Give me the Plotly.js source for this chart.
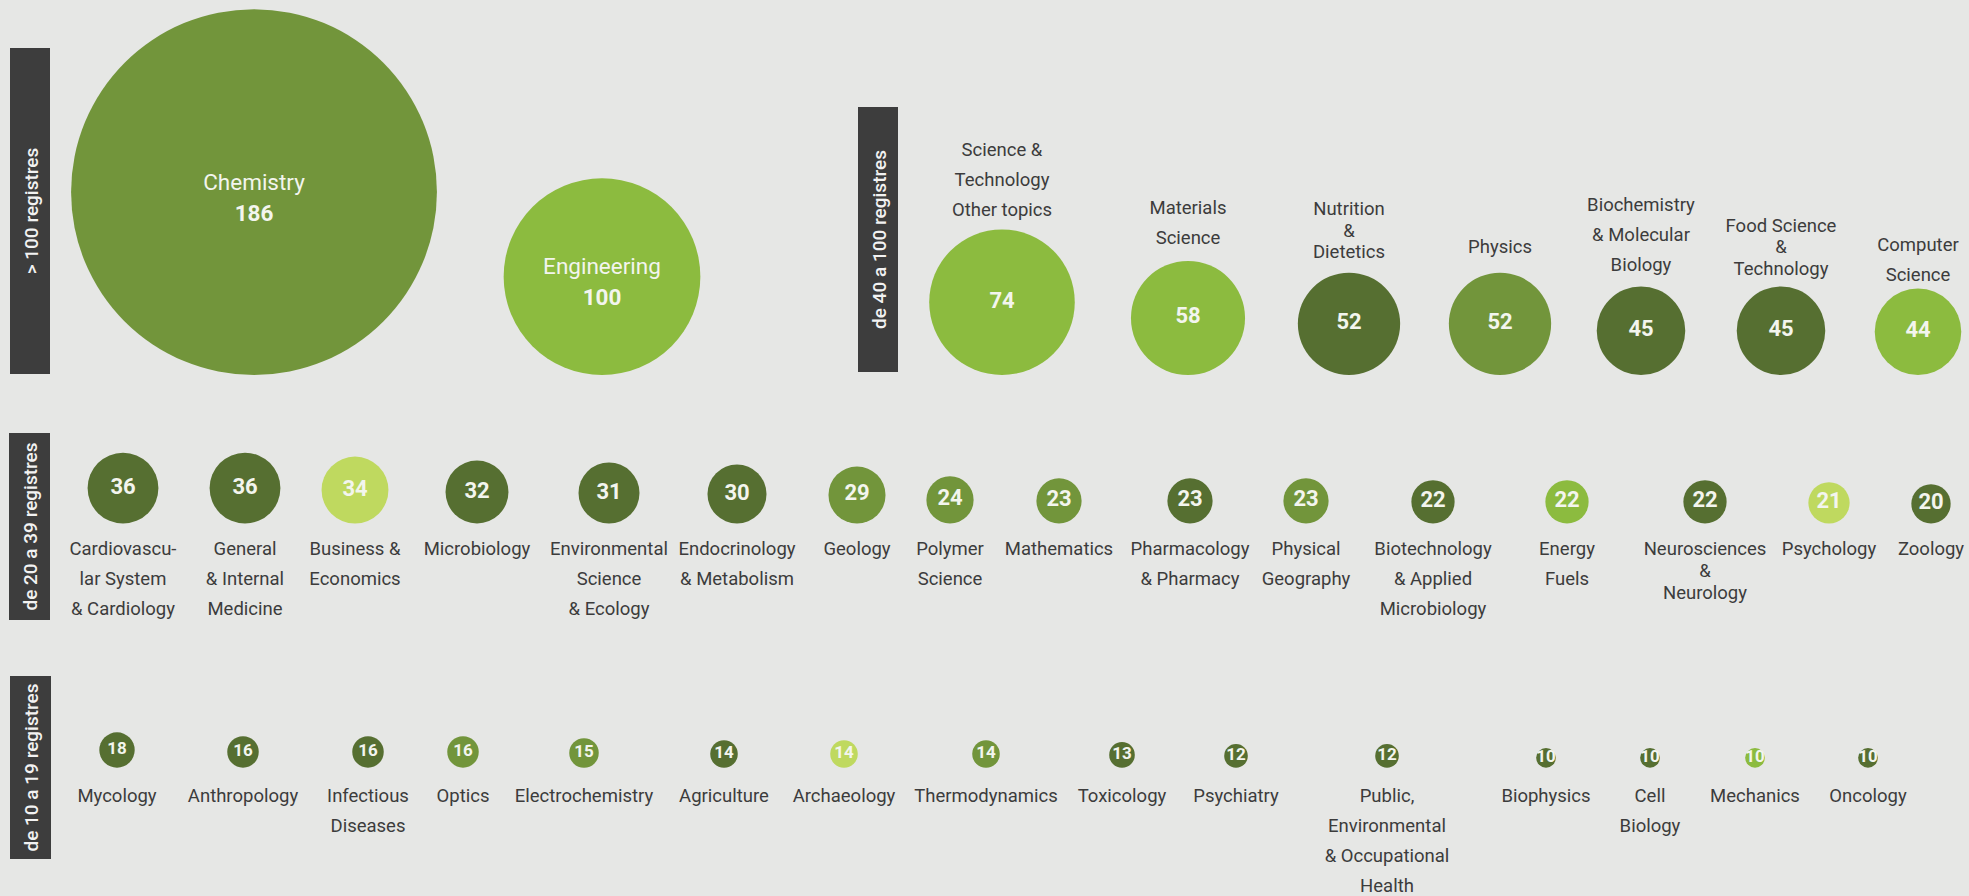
<!DOCTYPE html>
<html>
<head>
<meta charset="utf-8">
<script src="https://cdn.plot.ly/plotly-3.0.1.min.js"></script>
<style>
html,body{margin:0;padding:0;background:#e6e7e5;overflow:hidden}
#chart{width:1969px;height:896px}
</style>
</head>
<body>
<div id="chart"></div>
<script>
// ---------------- DATA ----------------
const tier1Labels = ["Chemistry", "Engineering"];
const tier1Values = [186, 100];

const tier2Labels = ["Science &<br>Technology<br>Other topics", "Materials<br>Science", "Nutrition<br>&<br>Dietetics",
  "Physics", "Biochemistry<br>& Molecular<br>Biology", "Food Science<br>&<br>Technology", "Computer<br>Science"];
const tier2Values = [74, 58, 52, 52, 45, 45, 44];

const tier3Labels = ["Cardiovascu-<br>lar System<br>& Cardiology", "General<br>& Internal<br>Medicine", "Business &<br>Economics",
  "Microbiology", "Environmental<br>Science<br>& Ecology", "Endocrinology<br>& Metabolism", "Geology", "Polymer<br>Science",
  "Mathematics", "Pharmacology<br>& Pharmacy", "Physical<br>Geography", "Biotechnology<br>& Applied<br>Microbiology",
  "Energy<br>Fuels", "Neurosciences<br>&<br>Neurology", "Psychology", "Zoology"];
const tier3Values = [36, 36, 34, 32, 31, 30, 29, 24, 23, 23, 23, 22, 22, 22, 21, 20];

const tier4Labels = ["Mycology", "Anthropology", "Infectious<br>Diseases", "Optics", "Electrochemistry", "Agriculture",
  "Archaeology", "Thermodynamics", "Toxicology", "Psychiatry", "Public,<br>Environmental<br>& Occupational<br>Health",
  "Biophysics", "Cell<br>Biology", "Mechanics", "Oncology"];
const tier4Values = [18, 16, 16, 16, 15, 14, 14, 14, 13, 12, 12, 10, 10, 10, 10];

const tierTitles = ["> 100 registres", "de 40 a 100 registres", "de 20 a 39 registres", "de 10 a 19 registres"];

// ---------------- LAYOUT POSITIONS (pixels) ----------------
const tier1X = [254, 602];
const tier2X = [1002, 1188, 1349, 1500, 1641, 1781, 1918];
const tier3X = [123, 245, 355, 477, 609, 737, 857, 950, 1059, 1190, 1306, 1433, 1567, 1705, 1829, 1931];
const tier4X = [117, 243, 368, 463, 584, 724, 844, 986, 1122, 1236, 1387, 1546, 1650, 1755, 1868];
// gap between the last label line and the top of each tier-2 bubble
const tier2LabelGap = [18, 22, 19, 24, 20, 16, 12];

// ---------------- STYLES ----------------
const PAL = {D: "#566f31", M: "#72953b", B: "#8cbb3f", L: "#bfd95f"};
const tier1Colors = ["M", "B"];
const tier2Colors = ["B", "B", "D", "M", "D", "D", "B"];
const tier3Colors = ["D", "D", "L", "D", "D", "D", "M", "M", "M", "D", "M", "D", "B", "D", "L", "D"];
const tier4Colors = ["D", "D", "D", "M", "M", "D", "L", "M", "D", "D", "D", "D", "D", "B", "D"];

const PX_PER_UNIT = 1.967;                 // bubble diameter per record
const BOTTOM = [375, 375, 523.5, 767.7];   // bubble baseline of each tier
const FONT = "Roboto, 'Liberation Sans', sans-serif";
const LABEL_COLOR = "#3c3c3c";
const LABEL_SIZE = 18.5;
const NUM_COLOR = "#f3f5ee";
const LINE_GAP = 30, AMP_GAP = 21.7;

function centerY(values, bottom) { return values.map(v => bottom - v * PX_PER_UNIT / 2); }

function bubbleTrace(xs, values, colors, bottom, showNum, numSize) {
  return {
    type: "scatter", mode: showNum ? "markers+text" : "markers",
    x: xs, y: centerY(values, bottom),
    text: values.map(String),
    textposition: "middle center",
    textfont: {family: FONT, size: numSize, color: NUM_COLOR, weight: 700},
    marker: {size: values, sizemode: "diameter", sizeref: 1 / PX_PER_UNIT,
      color: colors.map(c => PAL[c]), line: {width: 0}, opacity: 1},
    hoverinfo: "skip", cliponaxis: false
  };
}

// one point per text line so that the line spacing follows the reference
function labelTrace(labels, xs, anchors, fromBottom, size, color, gapFn) {
  const X = [], Y = [], T = [];
  labels.forEach((lab, i) => {
    const lines = lab.split("<br>");
    const n = lines.length;
    const ys = new Array(n);
    const gap = k => gapFn(lines[k - 1], lines[k]);
    if (!fromBottom) {
      ys[0] = anchors[i];
      for (let k = 1; k < n; k++) ys[k] = ys[k - 1] + gap(k);
    } else {
      ys[n - 1] = anchors[i];
      for (let k = n - 2; k >= 0; k--) ys[k] = ys[k + 1] - gap(k + 1);
    }
    lines.forEach((ln, k) => { X.push(xs[i]); Y.push(ys[k]); T.push(ln); });
  });
  return {
    type: "scatter", mode: "text", x: X, y: Y, text: T,
    textposition: "middle center",
    textfont: {family: FONT, size: size, color: color},
    hoverinfo: "skip", cliponaxis: false
  };
}
const stdGap = (a, b) => (a.trim() === "&" || b.trim() === "&") ? AMP_GAP : LINE_GAP;

const traces = [];
// Tier 1
traces.push(bubbleTrace(tier1X, tier1Values, tier1Colors, BOTTOM[0], false, 24));
traces.push(labelTrace(
  tier1Labels.map((l, i) => l + "<br><b>" + tier1Values[i] + "</b>"),
  tier1X, centerY(tier1Values, BOTTOM[0]).map(y => y - 8), false, 22.5, NUM_COLOR, () => 31));
// Tier 2
traces.push(bubbleTrace(tier2X, tier2Values, tier2Colors, BOTTOM[1], true, 22));
traces.push(labelTrace(tier2Labels, tier2X,
  tier2Values.map((v, i) => BOTTOM[1] - v * PX_PER_UNIT - tier2LabelGap[i]), true, LABEL_SIZE, LABEL_COLOR, stdGap));
// Tier 3
traces.push(bubbleTrace(tier3X, tier3Values, tier3Colors, BOTTOM[2], true, 22));
traces.push(labelTrace(tier3Labels, tier3X, tier3Values.map(() => BOTTOM[2] + 27), false, LABEL_SIZE, LABEL_COLOR, stdGap));
// Tier 4
traces.push(bubbleTrace(tier4X, tier4Values, tier4Colors, BOTTOM[3], true, 17));
traces.push(labelTrace(tier4Labels, tier4X, tier4Values.map(() => BOTTOM[3] + 29.5), false, LABEL_SIZE, LABEL_COLOR, stdGap));

// Tier title bars
const barBoxes = [[10, 50, 48, 374], [858, 898, 107, 372], [9, 50, 433, 620], [10, 51, 676, 859]];
const shapes = barBoxes.map((b, i) => ({
  type: "rect", xref: "x", yref: "y", x0: b[0], x1: b[1], y0: b[2], y1: b[3],
  fillcolor: "#3d3d3d", line: {width: 0}, layer: "below",
  label: {text: tierTitles[i], textangle: -90, textposition: "middle center",
    font: {family: FONT, size: 19, color: "#f2f2f2", weight: 500}}
}));

const layout = {
  width: 1969, height: 896,
  margin: {l: 0, r: 0, t: 0, b: 0, pad: 0},
  paper_bgcolor: "#e6e7e5", plot_bgcolor: "#e6e7e5",
  showlegend: false,
  xaxis: {range: [0, 1969], visible: false, fixedrange: true},
  yaxis: {range: [896, 0], visible: false, fixedrange: true},
  shapes: shapes
};

Plotly.newPlot("chart", traces, layout, {displayModeBar: false, staticPlot: true});
</script>
</body>
</html>
